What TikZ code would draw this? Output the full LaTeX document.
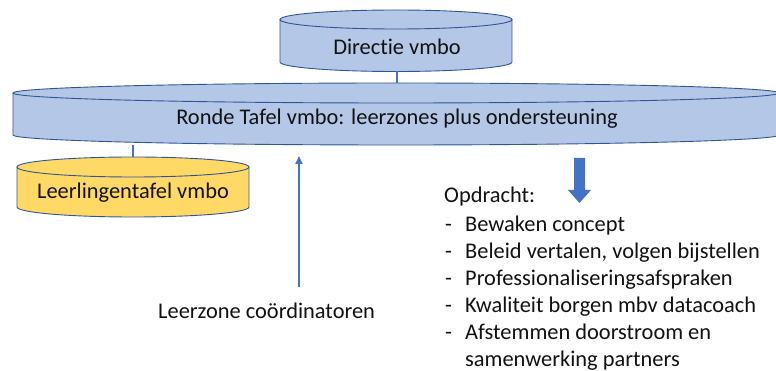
\documentclass[tikz,border=0pt]{standalone}
\usepackage{fontspec}
\usetikzlibrary{arrows.meta}
\setmainfont{Carlito}[RawFeature=-liga]
\definecolor{cylfill}{HTML}{B4C7E7}
\definecolor{cylline}{HTML}{2F5597}
\definecolor{yelfill}{HTML}{FFD966}
\definecolor{conn}{HTML}{4472C4}
\definecolor{txt}{HTML}{111111}
\newcommand\mycyl[6]{% cx, ytop, ybot, rx, ry, fill
  \fill[#6] (#1,#3) ellipse ({#4} and {#5});
  \fill[#6] ({#1-#4},#2) rectangle ({#1+#4},#3);
  \draw[cylline, line width=0.9pt] ({#1-#4},#2) -- ({#1-#4},#3) arc(180:0:{#4} and {#5}) -- ({#1+#4},#2);
  \draw[cylline, line width=0.9pt, fill=#6] (#1,#2) ellipse ({#4} and {#5});
}
\begin{document}
\begin{tikzpicture}[x=1pt,y=-1pt,
  lbl/.style={font=\fontsize{22.4}{26}\selectfont, text=txt, inner sep=0pt},
  link/.style={conn, line width=1.8pt}]
\useasboundingbox (0,0) rectangle (776,371);
\clip (0,0) rectangle (776,371);
% cylinders
\mycyl{396}{19.5}{62}{116}{9.5}{cylfill}
\mycyl{396}{93}{135}{383}{10}{cylfill}
\mycyl{133}{167}{207}{116}{10}{yelfill}
% text nodes
\node[lbl, anchor=base] (dir) at (397,55) {Directie vmbo};
\node[lbl, anchor=base] (rt) at (397,125) {Ronde Tafel vmbo: leerzones plus ondersteuning};
\node[lbl, anchor=base] (ll) at (133,199) {Leerlingentafel vmbo};
\node[lbl, anchor=base west] (lz) at (158,318) {Leerzone coördinatoren};
% connector coordinates
\coordinate (dirbot) at (397,71.5);
\coordinate (rttop) at (397,83);
\coordinate (rtbotl) at (133,145);
\coordinate (lltop) at (133,157);
\coordinate (arrbase) at (299,287);
\coordinate (arrtip) at (299,156);
\draw[link] (dirbot) -- (rttop);
\draw[link] (rtbotl) -- (lltop);
\draw[link, -{Triangle[length=8pt,width=7pt]}] (arrbase) -- (arrtip);
% block arrow
\fill[conn] (574,158) -- (585,158) -- (585,190) -- (591,190) -- (579.5,203) -- (568,190) -- (574,190) -- cycle;
% list
\node[lbl, anchor=base west] (opd) at (444,203) {Opdracht:};
\foreach \t [count=\i] in {Bewaken concept, {Beleid vertalen, volgen bijstellen}, Professionaliseringsafspraken, Kwaliteit borgen mbv datacoach, Afstemmen doorstroom en}{
  \node[lbl, anchor=base west] (d\i) at (445,{232+26.9*(\i-1)}) {-};
  \node[lbl, anchor=base west] (l\i) at (465,{232+26.9*(\i-1)}) {\t};
}
\node[lbl, anchor=base west] (l6) at (465,366.5) {samenwerking partners};
\end{tikzpicture}
\end{document}
